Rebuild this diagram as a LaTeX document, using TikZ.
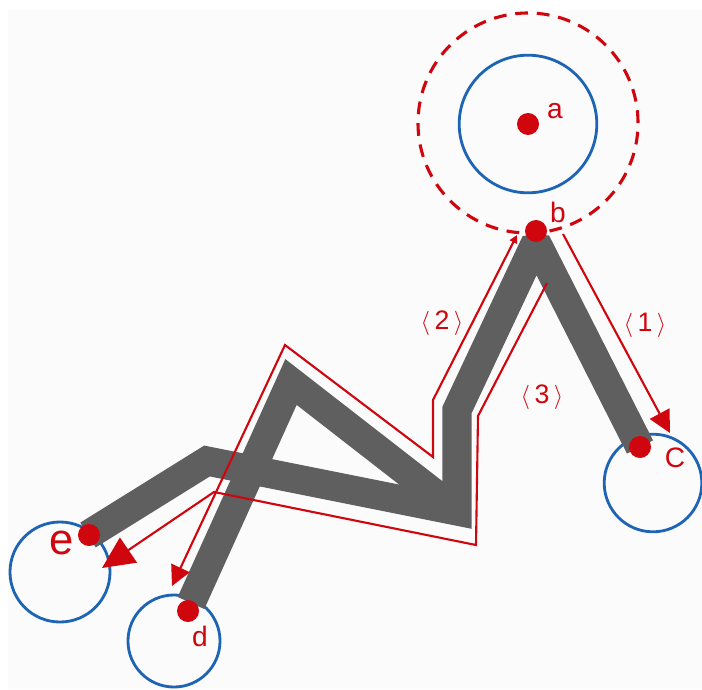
\documentclass[tikz,border=0pt]{standalone}
\usepackage{fontspec}
\setmainfont{Liberation Sans}
\usetikzlibrary{arrows.meta}
\definecolor{mred}{HTML}{D0060E}
\definecolor{mblue}{HTML}{1E64B4}
\definecolor{mgray}{HTML}{5F5F5F}
\definecolor{paper}{HTML}{FBFBFB}
\tikzset{
    ring/.style = {
        draw=mblue, line width=2pt
    },
    guard/.style = {
        draw=mred, line width=2.2pt,
        dash pattern=on 0.32cm off 0.22cm
    },
    limb/.style = {
        draw=mgray, line width=0.73cm,
        line cap=butt, line join=miter, miter limit=2
    },
    route/.style = {
        draw=mred, line width=1.5pt, line join=miter
    },
    dot/.style = {
        circle, fill=mred,
        inner sep=0pt, minimum size=0.55cm
    },
    lbl/.style = {
        text=mred, inner sep=0pt,
        font=\fontsize{20}{22}\selectfont
    },
    tag/.style = {
        text=mred, inner sep=0pt,
        font=\fontsize{19}{21}\selectfont
    }
}

\begin{document}
\begin{tikzpicture}[x=0.025cm, y=-0.025cm]

\useasboundingbox (0,0) rectangle (702,689);
\fill [paper] (8,10) rectangle (702,689);

\coordinate (ca) at (528,124);
\coordinate (cc) at (653,483);
\coordinate (cd) at (174,641);
\coordinate (ce) at (60,572);

\draw [guard] (528,123) circle [radius=2.75cm];
\draw [ring] (ca) circle [radius=1.72cm];
\draw [ring] (cc) circle [radius=1.22cm];
\draw [ring] (cd) circle [radius=1.15cm];
\draw [ring] (ce) circle [radius=1.25cm];

\coordinate (pc) at (640,447);
\coordinate (pb) at (536,242);
\coordinate (k1) at (457,410);
\coordinate (k2) at (457,511);
\coordinate (m) at (207,461);
\coordinate (pe) at (88,535);
\coordinate (apex) at (291,382);
\coordinate (pd) at (191,603);

\draw [limb] (pc) -- (pb) -- (k1) -- (k2) -- (m) -- (pe);
\draw [limb] (k2) -- (apex) -- (pd);

\coordinate (r1s) at (563,234);
\coordinate (r1e) at (670,433);
\coordinate (l1) at (517,235);
\coordinate (l2) at (433,400);
\coordinate (l3) at (433,457);
\coordinate (l4) at (285,345);
\coordinate (l5) at (172,586);
\coordinate (q1) at (547,283);
\coordinate (q2) at (478,416);
\coordinate (q3) at (476,545);
\coordinate (q4) at (214,492);
\coordinate (q5) at (102,568);

\draw [route, -{Triangle[length=0.55cm, width=0.55cm]}] (r1s) -- (r1e);
\draw [route, {Triangle[length=0.2cm, width=0.2cm]}-{Triangle[length=0.5cm, width=0.5cm]}]
    (l1) -- (l2) -- (l3) -- (l4) -- (l5);
\draw [route, -{Triangle[length=0.8cm, width=0.75cm]}] (q1) -- (q2) -- (q3) -- (q4) -- (q5);

\node (a) [dot] at (528,124) {};
\node (b) [dot] at (536,231) {};
\node (c) [dot] at (640,447) {};
\node (d) [dot] at (188,611) {};
\node (e) [dot] at (89,535) {};

\node (la) [lbl] at (555,111) {a};
\node (lb) [lbl] at (558,212) {b};
\node (lc) [lbl] at (675,458) {C};
\node (ld) [lbl] at (200,636) {d};
\node (le) [lbl, font=\fontsize{31}{33}\selectfont] at (62,543) {e};

\node (t1) [tag] at (645,325) {$\langle$\,1\,$\rangle$};
\node (t2) [tag] at (442,323) {$\langle$\,2\,$\rangle$};
\node (t3) [tag] at (542,397) {$\langle$\,3\,$\rangle$};

\end{tikzpicture}
\end{document}
